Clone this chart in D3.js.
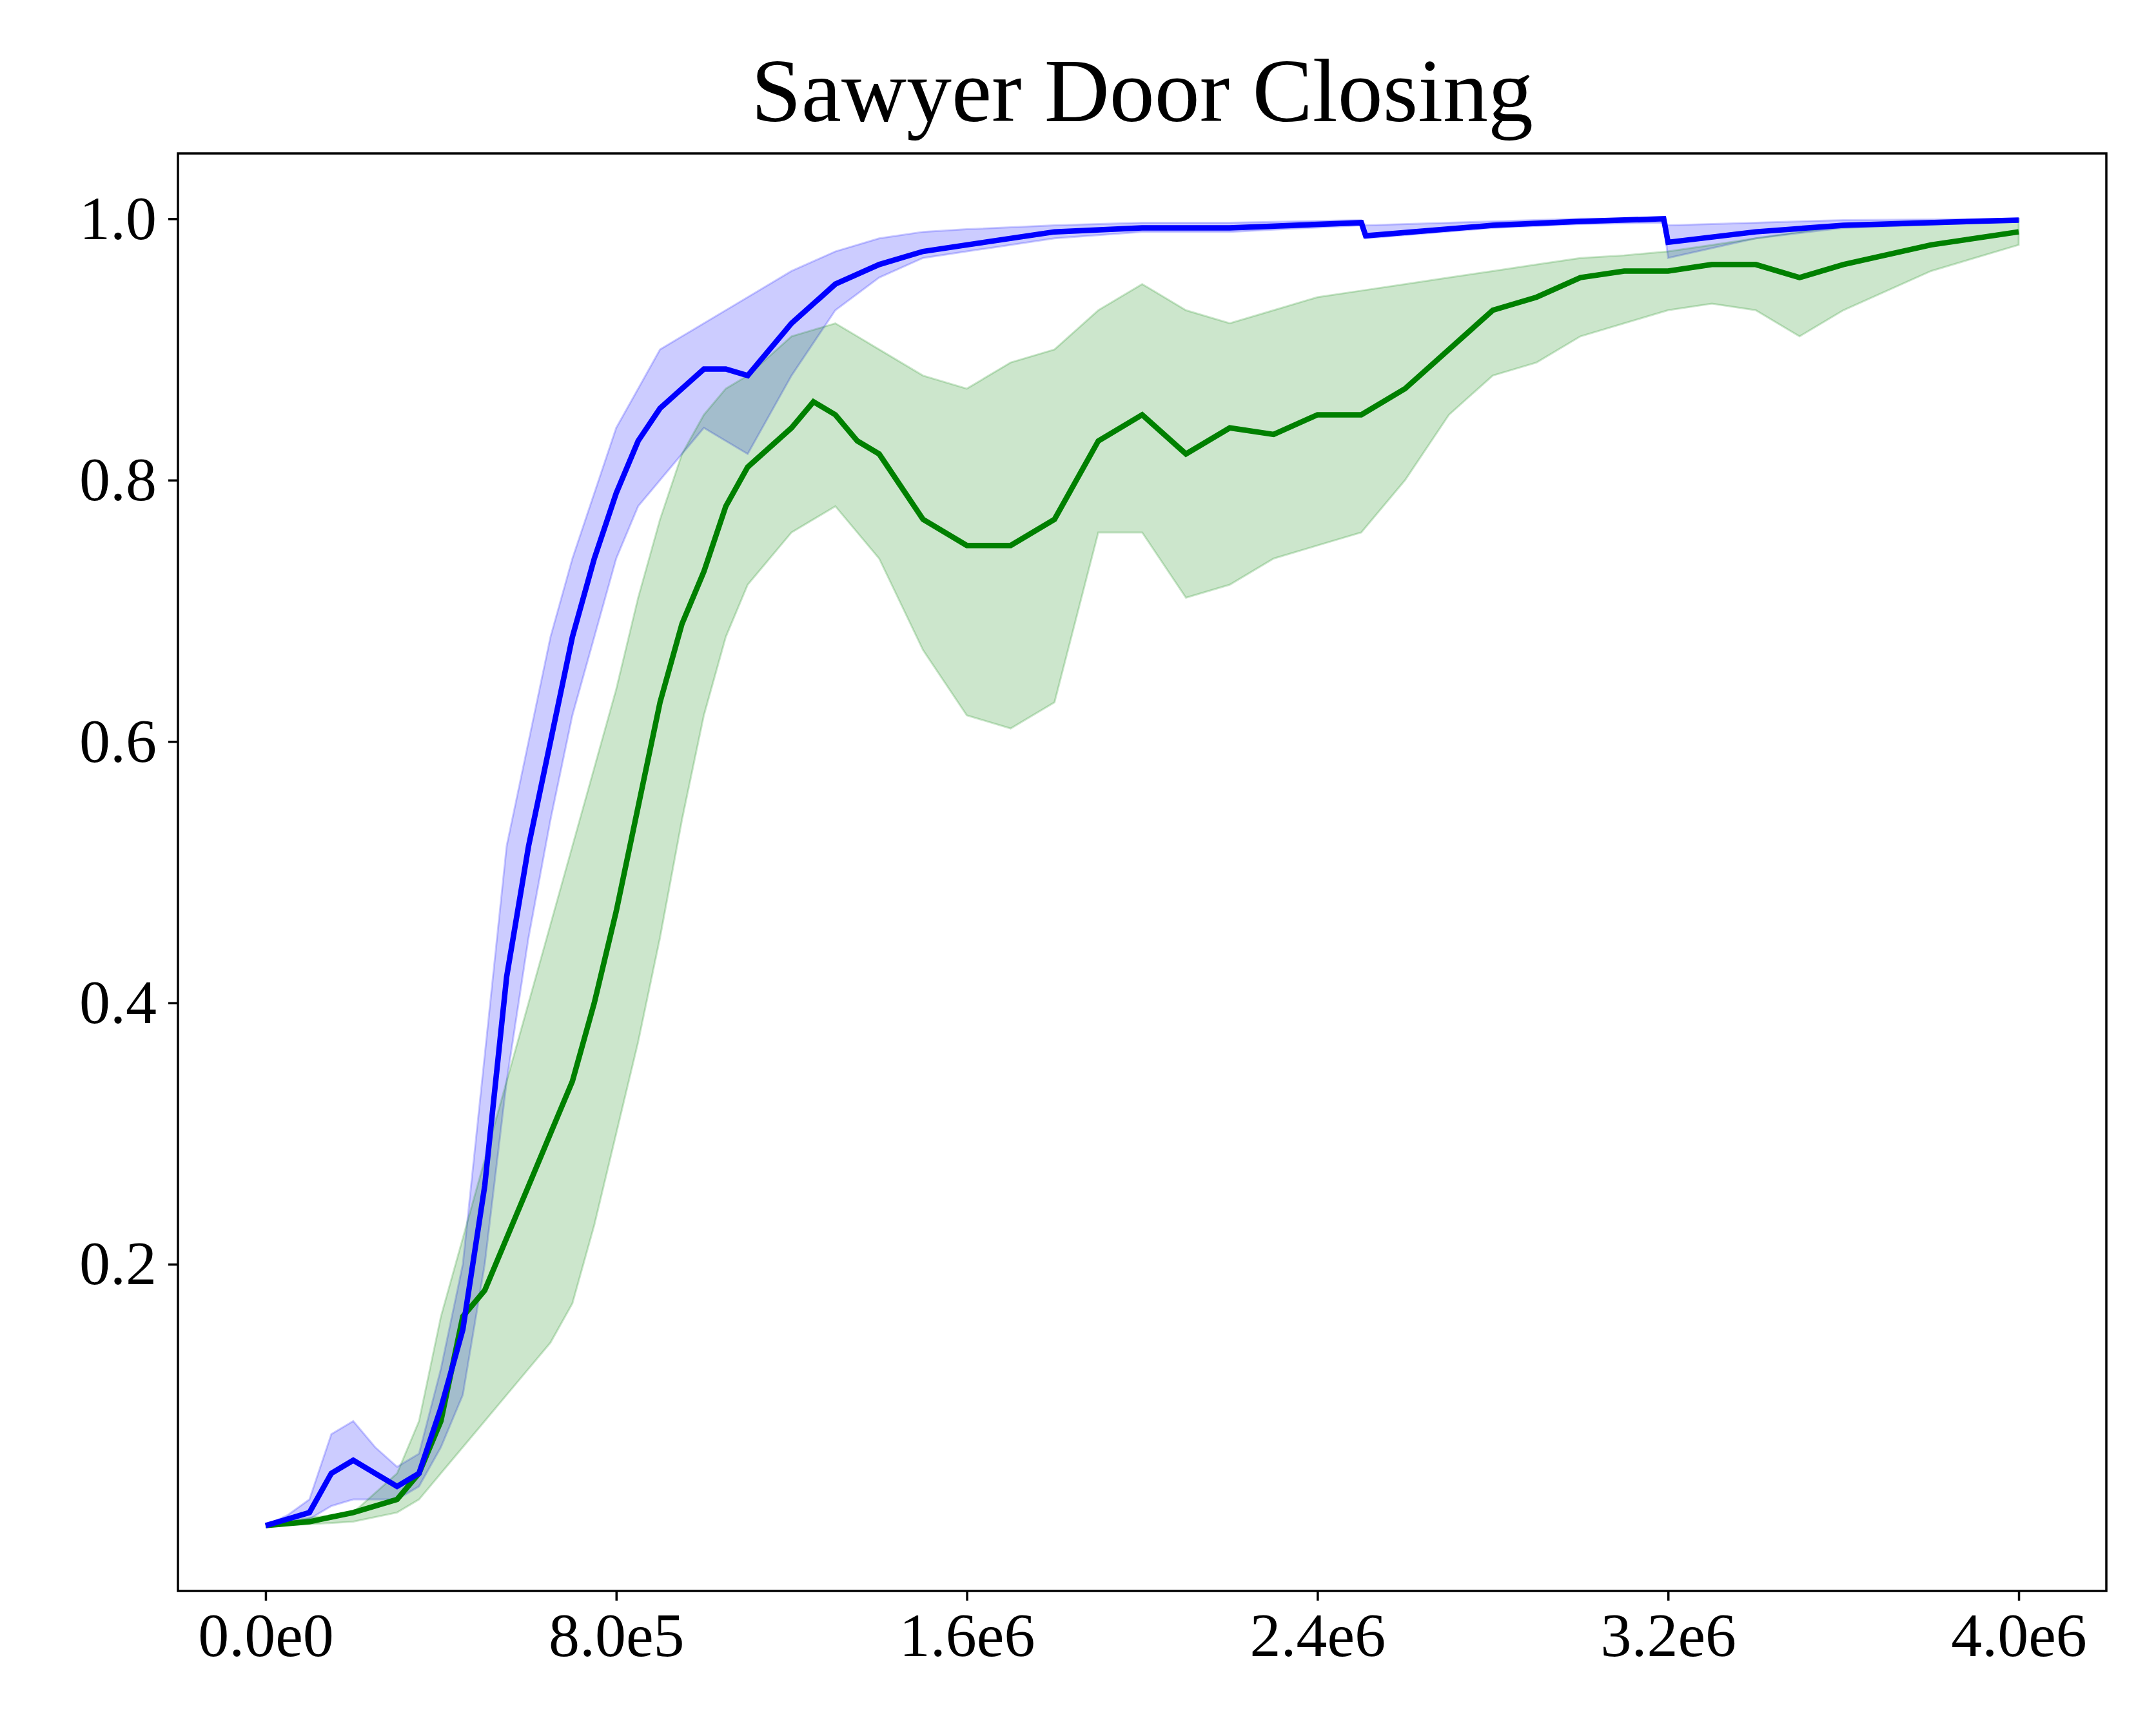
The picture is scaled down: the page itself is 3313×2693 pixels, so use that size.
<!DOCTYPE html>
<html><head><meta charset="utf-8">
<script src="https://cdn.jsdelivr.net/npm/d3@7"></script>
<style>body{margin:0;background:#fff}</style>
</head><body>
<svg id="chart" width="3313" height="2693"></svg>
<script>
// blue run
var blueX =    [0,0.05,0.1,0.15,0.2,0.25,0.3,0.35,0.4,0.45,0.5,0.55,0.6,0.65,0.7,0.75,0.8,0.85,0.9,0.95,1.0,1.05,1.1,1.2,1.3,1.4,1.5,1.6,1.8,2.0,2.2,2.5,2.51,2.8,3.0,3.19,3.2,3.4,3.6,4.0];
var blueMean = [0,0.005,0.01,0.04,0.05,0.04,0.03,0.04,0.09,0.15,0.26,0.42,0.52,0.6,0.68,0.74,0.79,0.83,0.855,0.87,0.885,0.885,0.88,0.92,0.95,0.965,0.975,0.98,0.99,0.993,0.993,0.997,0.987,0.995,0.998,1.0,0.982,0.99,0.995,0.999];
var blueLow =  [0,0.003,0.005,0.015,0.02,0.02,0.02,0.03,0.06,0.1,0.2,0.34,0.45,0.54,0.62,0.68,0.74,0.78,0.8,0.82,0.84,0.83,0.82,0.88,0.93,0.955,0.97,0.975,0.985,0.99,0.99,0.995,0.985,0.993,0.996,0.997,0.97,0.985,0.993,0.998];
var blueHigh = [0,0.008,0.02,0.07,0.08,0.06,0.045,0.055,0.12,0.2,0.36,0.52,0.6,0.68,0.74,0.79,0.84,0.87,0.9,0.91,0.92,0.93,0.94,0.96,0.975,0.985,0.99,0.992,0.995,0.997,0.997,0.999,0.995,0.998,1.0,1.0,0.995,0.997,0.999,1.0];
// green run
var greenX =    [0,0.1,0.2,0.3,0.35,0.4,0.45,0.5,0.55,0.6,0.65,0.7,0.75,0.8,0.85,0.9,0.95,1.0,1.05,1.1,1.2,1.25,1.3,1.35,1.4,1.5,1.6,1.7,1.8,1.9,2.0,2.1,2.2,2.3,2.4,2.5,2.6,2.7,2.8,2.9,3.0,3.1,3.2,3.3,3.4,3.5,3.6,3.8,4.0];
var greenMean = [0,0.003,0.01,0.02,0.04,0.08,0.16,0.18,0.22,0.26,0.3,0.34,0.4,0.47,0.55,0.63,0.69,0.73,0.78,0.81,0.84,0.86,0.85,0.83,0.82,0.77,0.75,0.75,0.77,0.83,0.85,0.82,0.84,0.835,0.85,0.85,0.87,0.9,0.93,0.94,0.955,0.96,0.96,0.965,0.965,0.955,0.965,0.98,0.99];
var greenLow =  [0,0.001,0.003,0.01,0.02,0.04,0.06,0.08,0.1,0.12,0.14,0.17,0.23,0.3,0.37,0.45,0.54,0.62,0.68,0.72,0.76,0.77,0.78,0.76,0.74,0.67,0.62,0.61,0.63,0.76,0.76,0.71,0.72,0.74,0.75,0.76,0.8,0.85,0.88,0.89,0.91,0.92,0.93,0.935,0.93,0.91,0.93,0.96,0.98];
var greenHigh = [0,0.006,0.01,0.04,0.08,0.16,0.22,0.28,0.34,0.4,0.46,0.52,0.58,0.64,0.71,0.77,0.82,0.85,0.87,0.88,0.91,0.915,0.92,0.91,0.9,0.88,0.87,0.89,0.9,0.93,0.95,0.93,0.92,0.93,0.94,0.945,0.95,0.955,0.96,0.965,0.97,0.972,0.975,0.98,0.985,0.99,0.995,0.998,1.0];
var xTicks = [0,0.8,1.6,2.4,3.2,4.0];
var xTickLabels = ["0.0e0","8.0e5","1.6e6","2.4e6","3.2e6","4.0e6"];
var yTicks = [0.2,0.4,0.6,0.8,1.0];

var svg = d3.select("#chart");
var L = 276, R = 3267, T = 238, B = 2468;
var x = d3.scaleLinear().domain([-0.2,4.2]).range([L,R]);
var y = d3.scaleLinear().domain([-0.05,1.05]).range([B,T]);
var font = "'Liberation Serif', 'DejaVu Serif', serif";

function band(xs, lo, hi, color) {
  var area = d3.area().x((d,i)=>x(xs[i])).y0((d,i)=>y(lo[i])).y1((d,i)=>y(hi[i]));
  svg.append("path").attr("d", area(xs)).attr("fill", color).attr("fill-opacity", 0.2)
    .attr("stroke", color).attr("stroke-opacity", 0.2).attr("stroke-width", 3);
}
function line(xs, ys, color) {
  var ln = d3.line().x((d,i)=>x(xs[i])).y((d,i)=>y(ys[i]));
  svg.append("path").attr("d", ln(xs)).attr("fill", "none").attr("stroke", color).attr("stroke-width", 8.5);
}
band(blueX, blueLow, blueHigh, "blue");
band(greenX, greenLow, greenHigh, "green");
line(greenX, greenMean, "green");
line(blueX, blueMean, "blue");

svg.append("rect").attr("x",L).attr("y",T).attr("width",R-L).attr("height",B-T)
  .attr("fill","none").attr("stroke","#000").attr("stroke-width",3.5);

var xa = svg.append("g").attr("transform","translate(0,"+B+")")
  .call(d3.axisBottom(x).tickValues(xTicks).tickFormat((d,i)=>xTickLabels[i]).tickSize(15).tickPadding(18));
var ya = svg.append("g").attr("transform","translate("+L+",0)")
  .call(d3.axisLeft(y).tickValues(yTicks).tickFormat(d3.format(".1f")).tickSize(15).tickPadding(18));
[xa, ya].forEach(a => {
  a.select(".domain").remove();
  a.selectAll("line").attr("stroke-width",3.5);
  a.selectAll("text").attr("font-family",font).attr("font-size",96).attr("fill","#000");
});
svg.append("text").attr("x",(L+R)/2).attr("y",T-50).attr("text-anchor","middle")
  .attr("font-family",font).attr("font-size",140).text("Sawyer Door Closing");
</script>
</body></html>
